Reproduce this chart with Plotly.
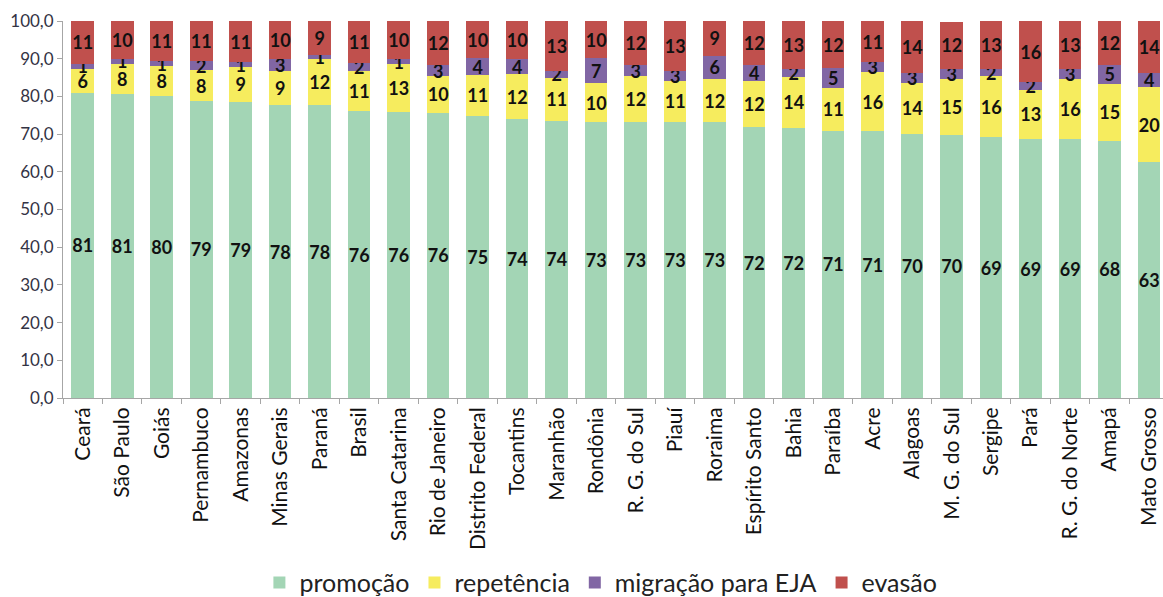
import plotly.graph_objects as go

estados = ["Ceará", "São Paulo", "Goiás", "Pernambuco", "Amazonas", "Minas Gerais", "Paraná",
           "Brasil", "Santa Catarina", "Rio de Janeiro", "Distrito Federal", "Tocantins",
           "Maranhão", "Rondônia", "R. G. do Sul", "Piauí", "Roraima", "Espírito Santo",
           "Bahia", "Paraíba", "Acre", "Alagoas", "M. G. do Sul", "Sergipe", "Pará",
           "R. G. do Norte", "Amapá", "Mato Grosso"]

promocao = [81.0, 80.7, 80.0, 78.8, 78.6, 77.7, 77.6, 76.1, 75.9, 75.7, 74.9, 73.9, 73.6, 73.1,
            73.1, 73.1, 73.1, 71.8, 71.6, 70.9, 70.8, 70.0, 69.8, 69.1, 68.7, 68.6, 68.2, 62.6]
repetencia = [6.4, 8.0, 8.1, 8.1, 9.2, 9.0, 12.4, 10.6, 12.6, 9.8, 10.8, 12.0, 11.4, 10.4,
              12.3, 11.1, 11.6, 12.4, 13.6, 11.4, 15.6, 13.6, 14.7, 16.2, 13.0, 15.9, 15.2, 19.8]
migracao = [1.3, 1.3, 1.2, 2.4, 1.3, 3.1, 1.1, 2.1, 1.3, 2.7, 4.4, 4.0, 1.8, 6.6,
            2.9, 2.6, 6.1, 4.1, 2.1, 5.2, 2.6, 2.7, 2.9, 2.0, 2.2, 2.8, 4.9, 3.8]
evasao = [11.2, 9.9, 10.6, 10.6, 10.8, 10.1, 8.8, 11.2, 10.1, 11.7, 9.8, 10.0, 13.1, 9.8,
          11.6, 13.2, 9.2, 11.6, 12.6, 12.4, 10.9, 13.6, 12.4, 12.6, 16.0, 12.6, 11.6, 13.7]

series = [
    ("promoção", promocao, "#A3D5B5"),
    ("repetência", repetencia, "#F6EC5E"),
    ("migração para EJA", migracao, "#8166A4"),
    ("evasão", evasao, "#C0504D"),
]

FONT = "Lato, 'Open Sans', sans-serif"

fig = go.Figure()
for name, vals, color in series:
    fig.add_trace(go.Bar(
        x=estados, y=vals, name=name,
        marker=dict(color=color, line=dict(width=0)),
        texttemplate="<b>%{y:.0f}</b>",
        textposition="inside",
        insidetextanchor="middle",
        textangle=0,
        constraintext="none",
        textfont=dict(family=FONT, size=18, color="#111111"),
        cliponaxis=False,
    ))

fig.update_layout(
    barmode="stack",
    bargap=0.43,
    width=1163, height=597,
    margin=dict(l=63, r=0, t=21, b=199, autoexpand=False),
    paper_bgcolor="white", plot_bgcolor="white",
    separators=",.",
    uniformtext=dict(minsize=18, mode="show"),
    font=dict(family=FONT, color="#222222"),
    legend=dict(orientation="h", x=0.489, xanchor="center", y=-0.49, yanchor="middle",
                font=dict(family=FONT, size=25, color="#222222"),
                itemwidth=30, traceorder="normal"),
    xaxis=dict(
        range=[-0.5, 27.35], automargin=False,
        showline=True, linecolor="#A6A6A6", linewidth=1,
        ticks="outside", tickson="boundaries", ticklen=5, tickcolor="#A6A6A6",
        tickangle=-90, tickfont=dict(family=FONT, size=21, color="#111111"),
        showgrid=False,
    ),
    yaxis=dict(
        range=[0, 100], dtick=10, tickformat=".1f", automargin=False,
        showline=True, linecolor="#A6A6A6", linewidth=1,
        ticks="outside", ticklen=5, tickcolor="#A6A6A6",
        tickfont=dict(family=FONT, size=17, color="#333344"),
        showgrid=False, zeroline=False,
    ),
)

fig.write_html(
    "out.html",
    config={"displayModeBar": False},
    post_script="document.body.style.margin='0px';document.body.style.overflow='hidden';",
)
